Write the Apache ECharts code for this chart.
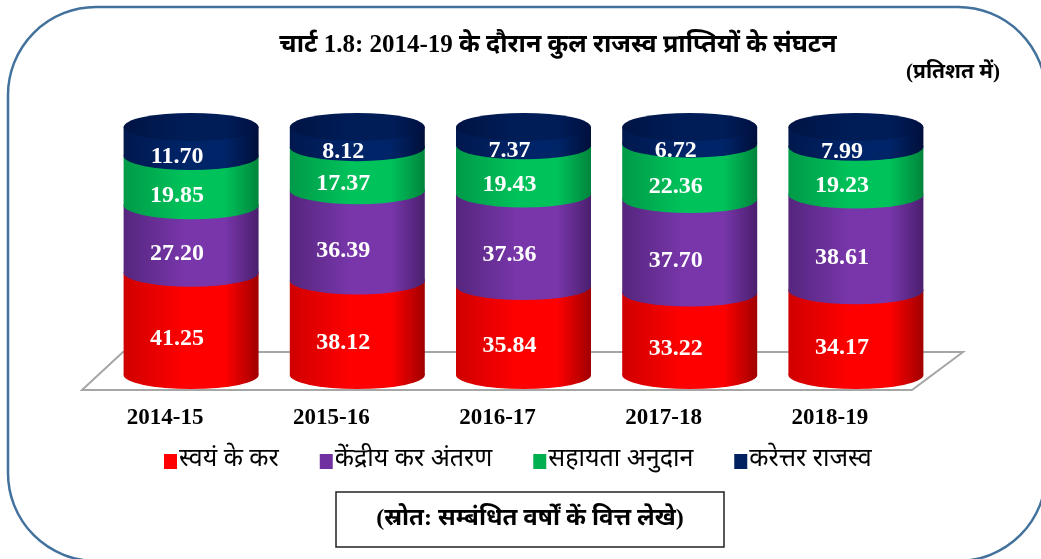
<!DOCTYPE html>
<html>
<head>
<meta charset="utf-8">
<script src="https://cdn.jsdelivr.net/npm/echarts@6/dist/echarts.min.js"></script>
<style>
  html, body { margin: 0; padding: 0; background: #fff; }
  #chart { width: 1041px; height: 559px; }
</style>
</head>
<body>
<div id="chart"></div>
<script>
const years = ["2014-15", "2015-16", "2016-17", "2017-18", "2018-19"];
const ownTax = [41.25, 38.12, 35.84, 33.22, 34.17];
const centralTransfer = [27.20, 36.39, 37.36, 37.70, 38.61];
const grants = [19.85, 17.37, 19.43, 22.36, 19.23];
const nonTax = [11.70, 8.12, 7.37, 6.72, 7.99];

const names = ["स्वयं के कर", "केंद्रीय कर अंतरण", "सहायता अनुदान", "करेत्तर राजस्व"];
const parts = [ownTax, centralTransfer, grants, nonTax];

const SERIF = "'Liberation Serif', 'Times New Roman', serif";
// latin glyphs from the serif face, devanagari falls back
const MIXED = "'Liberation Serif', 'Noto Sans Devanagari', 'Noto Sans', serif";
const DEVA = "'Noto Sans Devanagari', 'Noto Sans', sans-serif";
const BAR_W = 135;
const ELL_H = 28;

// cylinder shading: left edge, bright middle, dark right edge
function cyl(a, b, c) {
  return new echarts.graphic.LinearGradient(0, 0, 1, 0, [
    { offset: 0, color: a },
    { offset: 0.45, color: b },
    { offset: 0.75, color: b },
    { offset: 1, color: c },
  ]);
}
const shades = [
  ["#D00000", "#FF0000", "#A00000"],
  ["#55267E", "#7836AA", "#4A1F6E"],
  ["#009A48", "#00C25A", "#00853C"],
  ["#00184E", "#002468", "#000F3A"],
];
const flat = ["#FF0000", "#7030A0", "#00B050", "#002060"];

// running totals for segment boundaries
const cum = [];
let run = years.map(() => 0);
parts.forEach(p => {
  run = run.map((v, i) => v + p[i]);
  cum.push(run.slice());
});

const series = [];

// cylinder bodies
parts.forEach((p, k) => {
  series.push({
    name: names[k],
    type: "bar",
    stack: "body",
    data: p,
    barWidth: BAR_W,
    barGap: "-100%",
    itemStyle: { color: cyl(...shades[k]) },
    z: 2,
  });
});

// bottom rounding
series.push({
  type: "pictorialBar",
  data: ownTax,
  symbol: "circle",
  symbolSize: [BAR_W, ELL_H],
  symbolPosition: "start",
  symbolOffset: [0, "50%"],
  barGap: "-100%",
  itemStyle: { color: cyl(...shades[0]) },
  silent: true,
  z: 3,
});

// front arcs of boundaries, drawn in the colour of the upper segment
for (let k = 1; k < 4; k++) {
  series.push({
    type: "pictorialBar",
    data: cum[k - 1],
    symbol: "circle",
    symbolSize: [BAR_W, ELL_H],
    symbolPosition: "end",
    symbolOffset: [0, "-50%"],
    barGap: "-100%",
    itemStyle: { color: cyl(...shades[k]) },
    silent: true,
    z: 3,
  });
}

// top cap
series.push({
  type: "pictorialBar",
  data: cum[3],
  symbol: "circle",
  symbolSize: [BAR_W, ELL_H],
  symbolPosition: "end",
  symbolOffset: [0, "-50%"],
  barGap: "-100%",
  itemStyle: { color: cyl("#001444", "#001D58", "#001040") },
  silent: true,
  z: 4,
});

// value labels on an invisible stack so the caps don't hide them
parts.forEach((p, k) => {
  series.push({
    type: "bar",
    stack: "labels",
    data: p,
    barWidth: BAR_W,
    barGap: "-100%",
    itemStyle: { color: "rgba(0,0,0,0)" },
    silent: true,
    z: 10,
    label: {
      show: true,
      position: "inside",
      offset: [-14, 15],
      color: "#fff",
      fontFamily: SERIF,
      fontWeight: "bold",
      fontSize: 24,
      formatter: q => Number(q.value).toFixed(2),
    },
  });
});

const chart = echarts.init(document.getElementById("chart"));

chart.setOption({
  backgroundColor: "#fff",
  animation: false,
  title: [
    {
      text: "चार्ट 1.8: 2014-19 के दौरान कुल राजस्व प्राप्तियों के संघटन",
      left: 553, top: 28, textAlign: "center",
      textStyle: { fontFamily: MIXED, fontWeight: "bold", fontSize: 25, color: "#000" },
    },
    {
      text: "(प्रतिशत में)",
      right: 36, top: 57,
      textStyle: { fontFamily: MIXED, fontWeight: "bold", fontSize: 21, color: "#000" },
    },
  ],
  legend: {
    left: 159, top: 444,
    itemWidth: 13, itemHeight: 15, itemGap: 41,
    icon: "rect",
    textStyle: { fontFamily: DEVA, fontSize: 25, color: "#000", padding: [0, 0, 0, -3] },
    data: names.map((n, k) => ({ name: n, itemStyle: { color: flat[k] } })),
  },
  grid: { left: 108, width: 831, top: 127, height: 248, containLabel: false },
  xAxis: {
    type: "category",
    data: years,
    axisLine: { show: false },
    axisTick: { show: false },
    axisLabel: {
      margin: 32,
      padding: [0, 52, 0, 0],
      fontFamily: SERIF, fontWeight: "bold", fontSize: 23, color: "#000",
    },
  },
  yAxis: {
    type: "value", min: 0, max: 100,
    show: false,
    splitLine: { show: false },
  },
  graphic: [
    {
      type: "rect", z: 0, silent: true,
      shape: { x: 8, y: 7, width: 1038, height: 554, r: 88 },
      style: { fill: "none", stroke: "#41719C", lineWidth: 2.5 },
    },
    {
      type: "polygon", z: 0, silent: true,
      shape: { points: [[82, 390], [912, 390], [963, 352], [123, 352]] },
      style: { fill: "#fff", stroke: "#A6A6A6", lineWidth: 2 },
    },
    {
      type: "rect", z: 0, silent: true,
      shape: { x: 336, y: 492, width: 388, height: 55 },
      style: { fill: "#fff", stroke: "#222", lineWidth: 1.5 },
    },
    {
      type: "text", z: 1, silent: true,
      x: 530, y: 519,
      style: {
        text: "(स्रोत: सम्बंधित वर्षों कें वित्त लेखे)",
        font: "bold 24px " + MIXED,
        fill: "#000", align: "center", verticalAlign: "middle",
      },
    },
  ],
  series,
});
</script>
</body>
</html>
